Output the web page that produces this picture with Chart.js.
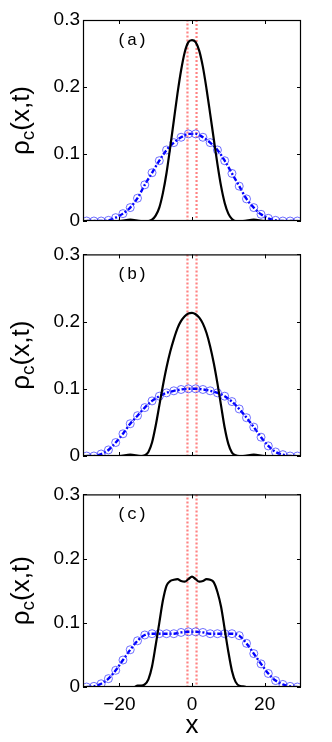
<!DOCTYPE html>
<html>
<head>
<meta charset="utf-8">
<script src="https://cdn.jsdelivr.net/npm/chart.js@4.4.0/dist/chart.umd.min.js"></script>
<style>
  body { margin: 0; background: #fff; }
  #wrap { position: relative; width: 332px; height: 742px; }
  canvas { position: absolute; left: 0; }
</style>
</head>
<body>
<div id="wrap">
  <canvas id="panelA" width="332" height="240" style="top:0px"></canvas>
  <canvas id="panelB" width="332" height="240" style="top:240px"></canvas>
  <canvas id="panelC" width="332" height="262" style="top:480px"></canvas>
</div>
<script>
// axis ticks
const xTicks = [-20, 0, 20];
const yTicks = [0, 0.1, 0.2, 0.3];
const xRange = [-30, 30];
const yRange = [0, 0.3];
const panelLabels = ['(a)', '(b)', '(c)'];

// positions of the two red dotted walls
const wallX = [-1.25, 1.25];

// blue circles / dash-dot curve (same x grid for all panels)
const blueX = [-29, -27, -25, -23, -21, -19, -17, -15, -13, -11, -9, -7, -5, -3, -1,
               1, 3, 5, 7, 9, 11, 13, 15, 17, 19, 21, 23, 25, 27, 29];
const blueA = [0, 0, 0, 0.001, 0.005, 0.011, 0.02, 0.034, 0.054, 0.072, 0.09, 0.106, 0.117, 0.125, 0.13,
               0.13, 0.125, 0.117, 0.106, 0.09, 0.071, 0.052, 0.033, 0.02, 0.01, 0.004, 0.001, 0, 0, 0];
const blueB = [0, 0, 0.003, 0.009, 0.02, 0.033, 0.048, 0.06, 0.072, 0.082, 0.089, 0.094, 0.097, 0.099, 0.1,
               0.1, 0.099, 0.097, 0.094, 0.089, 0.081, 0.07, 0.057, 0.043, 0.028, 0.015, 0.006, 0.002, 0, 0];
const blueC = [0, 0.001, 0.005, 0.013, 0.026, 0.042, 0.058, 0.072, 0.081, 0.083, 0.083, 0.083, 0.083, 0.085, 0.086,
               0.086, 0.085, 0.083, 0.083, 0.083, 0.083, 0.08, 0.068, 0.052, 0.036, 0.021, 0.01, 0.004, 0.001, 0];

// black solid curves
const blackXA = [-30, -20, -17, -14, -12, -11, -10, -9, -8, -7, -6, -5, -4, -3, -2, -1, 0,
                 1, 2, 3, 4, 5, 6, 7, 8, 9, 10, 11, 12, 14, 17, 20, 30];
const blackA = [0, 0, 0.002, 0, 0, 0.002, 0.008, 0.02, 0.042, 0.072, 0.11, 0.15, 0.19, 0.225, 0.252, 0.267, 0.27,
                0.267, 0.254, 0.23, 0.197, 0.16, 0.122, 0.085, 0.052, 0.027, 0.011, 0.003, 0, 0, 0.002, 0, 0];
const blackXB = [-30, -20, -17, -14, -13, -12, -11, -10, -9, -8, -7, -6, -5, -4, -3, -2, -1, 0,
                 1, 2, 3, 4, 5, 6, 7, 8, 9, 10, 11, 12, 13, 14, 17, 20, 30];
const blackB = [0, 0, 0.002, 0, 0.001, 0.006, 0.02, 0.045, 0.075, 0.105, 0.132, 0.155, 0.174, 0.19, 0.201, 0.208, 0.212, 0.213,
                0.211, 0.206, 0.197, 0.183, 0.163, 0.138, 0.108, 0.075, 0.042, 0.018, 0.005, 0.001, 0, 0, 0.002, 0, 0];
const blackXC = [-30, -16, -15, -14, -13, -12, -11, -10, -9, -8, -7, -6, -5, -4, -3, -2, -1, 0,
                 1, 2, 3, 4, 5, 6, 7, 8, 9, 10, 11, 12, 13, 14, 15, 30];
const blackC = [0, 0, 0.002, 0.002, 0.004, 0.012, 0.032, 0.065, 0.1, 0.135, 0.158, 0.165, 0.167, 0.168, 0.165, 0.164, 0.168, 0.172,
                0.168, 0.164, 0.165, 0.168, 0.167, 0.163, 0.148, 0.125, 0.09, 0.055, 0.025, 0.008, 0.002, 0.001, 0, 0];

function pts(xs, ys) {
    return xs.map((x, i) => ({ x: x, y: ys[i] }));
}

// zero line with the two walls; a null breaks the line between the walls' tops
function wallPoints() {
    return [
        { x: xRange[0], y: 0 }, { x: wallX[0], y: 0 }, { x: wallX[0], y: yRange[1] },
        { x: 0, y: null },
        { x: wallX[1], y: yRange[1] }, { x: wallX[1], y: 0 }, { x: xRange[1], y: 0 }
    ];
}

// frame, inward ticks, panel label and axis titles
const decor = {
    id: 'decor',
    afterDraw(chart, args, opts) {
        var ctx = chart.ctx;
        var a = chart.chartArea;
        var sx = chart.scales.x, sy = chart.scales.y;
        ctx.save();
        ctx.strokeStyle = '#000';
        ctx.lineWidth = 1.2;
        ctx.strokeRect(a.left + 0.5, a.top + 0.5, a.right - a.left - 1, a.bottom - a.top - 1);
        ctx.lineWidth = 1;
        ctx.beginPath();
        yTicks.forEach(function (v) {
            var y = Math.round(sy.getPixelForValue(v)) + 0.5;
            ctx.moveTo(a.left, y); ctx.lineTo(a.left + 4, y);
            ctx.moveTo(a.right, y); ctx.lineTo(a.right - 4, y);
        });
        xTicks.forEach(function (v) {
            var x = Math.round(sx.getPixelForValue(v)) + 0.5;
            ctx.moveTo(x, a.bottom); ctx.lineTo(x, a.bottom - 4);
            ctx.moveTo(x, a.top); ctx.lineTo(x, a.top + 4);
        });
        ctx.stroke();

        // panel label
        ctx.fillStyle = '#000';
        ctx.font = '17px "Liberation Mono"';
        ctx.textAlign = 'center';
        ctx.textBaseline = 'middle';
        ctx.fillText(opts.label, a.left + 49, a.top + 20);

        // y title with subscript c
        var big = '26px "Liberation Sans"', small = '19px "Liberation Sans"';
        ctx.font = big;
        var w1 = ctx.measureText('ρ').width, w3 = ctx.measureText('(x,t)').width;
        ctx.font = small;
        var w2 = ctx.measureText('c').width;
        var total = w1 + w2 + w3;
        ctx.translate(29, (a.top + a.bottom) / 2);
        ctx.rotate(-Math.PI / 2);
        ctx.textAlign = 'left';
        ctx.textBaseline = 'alphabetic';
        var s = -total / 2;
        ctx.font = big;
        ctx.fillText('ρ', s, 0);
        ctx.font = small;
        ctx.fillText('c', s + w1, 5);
        ctx.font = big;
        ctx.fillText('(x,t)', s + w1 + w2, 0);
        ctx.restore();

        if (opts.xTitle) {
            ctx.save();
            ctx.fillStyle = '#000';
            ctx.font = '26px "Liberation Sans"';
            ctx.textAlign = 'center';
            ctx.textBaseline = 'alphabetic';
            ctx.fillText(opts.xTitle, (a.left + a.right) / 2, a.bottom + 46);
            ctx.restore();
        }
    }
};

function makePanel(id, bx, by, blue, label, pad, showX) {
    var ctx = document.getElementById(id).getContext('2d');
    new Chart(ctx, {
        type: 'line',
        data: {
            datasets: [{
                label: 'black',
                data: pts(bx, by),
                borderColor: '#000',
                borderWidth: 2.2,
                pointRadius: 0,
                tension: 0.4,
                cubicInterpolationMode: 'monotone'
            }, {
                label: 'circles',
                data: pts(blueX, blue),
                showLine: false,
                pointStyle: 'circle',
                pointRadius: 4,
                pointBorderWidth: 1,
                pointBorderColor: 'rgba(50,50,255,0.7)',
                pointBackgroundColor: 'rgba(0,0,0,0)'
            }, {
                label: 'dashdot',
                data: pts(blueX, blue),
                borderColor: '#0000ff',
                borderWidth: 2.4,
                borderDash: [5, 2, 2, 2],
                pointRadius: 0,
                tension: 0.4,
                cubicInterpolationMode: 'monotone'
            }, {
                label: 'walls',
                data: wallPoints(),
                borderColor: 'rgba(255,30,30,0.55)',
                borderWidth: 2.2,
                borderDash: [2, 2],
                pointRadius: 0,
                spanGaps: false,
                tension: 0
            }]
        },
        options: {
            responsive: false,
            animation: false,
            layout: { padding: pad },
            plugins: {
                legend: { display: false },
                tooltip: { enabled: false },
                decor: { label: label, xTitle: showX ? 'x' : '' }
            },
            scales: {
                x: {
                    type: 'linear',
                    min: xRange[0],
                    max: xRange[1],
                    display: showX,
                    afterBuildTicks: function (s) { s.ticks = xTicks.map(v => ({ value: v })); },
                    afterFit: function (s) { if (showX) s.height = 55; },
                    grid: { display: false, drawTicks: false },
                    border: { display: false },
                    ticks: {
                        padding: 6,
                        color: '#000',
                        font: { family: 'Liberation Sans', size: 19 },
                        maxRotation: 0,
                        callback: function (v) { return String(v).replace('-', '\u2212'); }
                    }
                },
                y: {
                    min: yRange[0],
                    max: yRange[1],
                    afterBuildTicks: function (s) { s.ticks = yTicks.map(v => ({ value: v })); },
                    afterFit: function (s) { s.width = 83; },
                    grid: { display: false, drawTicks: false },
                    border: { display: false },
                    ticks: {
                        padding: 3,
                        color: '#000',
                        font: { family: 'Liberation Sans', size: 19 },
                        callback: function (v) { return v === 0 ? '0' : v.toFixed(1); }
                    }
                }
            }
        },
        plugins: [decor]
    });
}

makePanel('panelA', blackXA, blackA, blueA, panelLabels[0], { left: 0, top: 20, right: 31, bottom: 19 }, false);
makePanel('panelB', blackXB, blackB, blueB, panelLabels[1], { left: 0, top: 14, right: 31, bottom: 24 }, false);
makePanel('panelC', blackXC, blackC, blueC, panelLabels[2], { left: 0, top: 9, right: 31, bottom: 0 }, true);
</script>
</body>
</html>
